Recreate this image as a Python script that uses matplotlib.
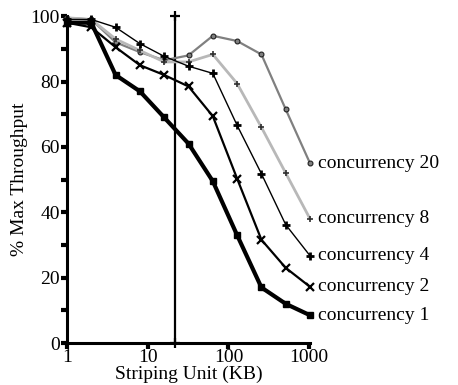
import numpy as np
import matplotlib.pyplot as plt
from matplotlib.ticker import FixedLocator, NullFormatter

# striping unit sizes in KB
stripe_kb = [1, 2, 4, 8, 16, 32, 64, 128, 256, 512, 1024]

# percent of max throughput for each concurrency level
conc1 = [98, 98, 82, 77, 69, 61, 49.5, 33, 17, 12, 8.5]
conc2 = [98, 96.6, 90.5, 85, 82, 78.5, 69.4, 50.3, 31.6, 23, 17.2]
conc4 = [99, 99, 96.6, 91.6, 87.7, 84.7, 82.5, 66.6, 51.8, 36.2, 26.7]
conc8 = [99.5, 99, 93, 89.5, 86, 86, 88.3, 79.4, 66, 52, 38]
conc20 = [99.5, 99, 92, 89, 86.5, 88, 94, 92.4, 88.3, 71.5, 55]

series_names = ["concurrency 1", "concurrency 2", "concurrency 4",
                "concurrency 8", "concurrency 20"]
marker_x = 21.5

plt.rcParams['font.family'] = ['Liberation Serif', 'DejaVu Serif']
plt.rcParams['font.size'] = 14

fig = plt.figure(figsize=(4.58, 3.85), dpi=100)
ax = fig.add_axes([0.1463, 0.109, 0.5306, 0.849])

styles = [
    dict(color='black', lw=3.0, marker='s', ms=5, mew=1),
    dict(color='black', lw=1.6, marker='x', ms=5.5, mew=1.6),
    dict(color='black', lw=1.0, marker='+', ms=6, mew=2.0),
    dict(color='#b8b8b8', lw=2.0, marker='+', ms=5, mew=1.2, mec='#303030'),
    dict(color='#808080', lw=1.6, marker='o', ms=3.5, mew=0.8, mec='#202020'),
]
all_series = [conc1, conc2, conc4, conc8, conc20]

# draw the light ones first so the black lines stay on top
for vals, st, name in reversed(list(zip(all_series, styles, series_names))):
    ax.plot(stripe_kb, vals, clip_on=False, zorder=3, **st)
    ax.annotate(name, xy=(stripe_kb[-1], vals[-1]), xytext=(6, 0),
                textcoords='offset points', va='center', ha='left',
                fontsize=14, annotation_clip=False)

# vertical reference line
ax.plot([marker_x, marker_x], [0, 100], color='black', lw=1.6,
        marker='+', ms=7, mew=1.6, clip_on=False, zorder=2)

ax.set_xscale('log')
ax.set_xlim(1, 1024)
ax.set_ylim(0, 100)
ax.xaxis.set_major_locator(FixedLocator([1, 10, 100, 1000]))
ax.xaxis.set_minor_locator(FixedLocator([]))
ax.set_xticklabels(['1', '10', '100', '1000'])
ax.set_yticks([0, 20, 40, 60, 80, 100])
ax.yaxis.set_minor_locator(FixedLocator([10, 30, 50, 70, 90]))
ax.yaxis.set_minor_formatter(NullFormatter())

ax.tick_params(axis='both', which='both', direction='out', length=4,
               width=3, pad=1, labelsize=14, color='black')
ax.tick_params(axis='x', which='major', pad=0)

for side in ['top', 'right']:
    ax.spines[side].set_visible(False)
for side in ['left', 'bottom']:
    ax.spines[side].set_linewidth(2.2)

ax.set_xlabel('Striping Unit (KB)', fontsize=14, labelpad=0)
ax.set_ylabel('% Max Throughput', fontsize=14, labelpad=2)

fig.savefig('out.png', dpi=100)
